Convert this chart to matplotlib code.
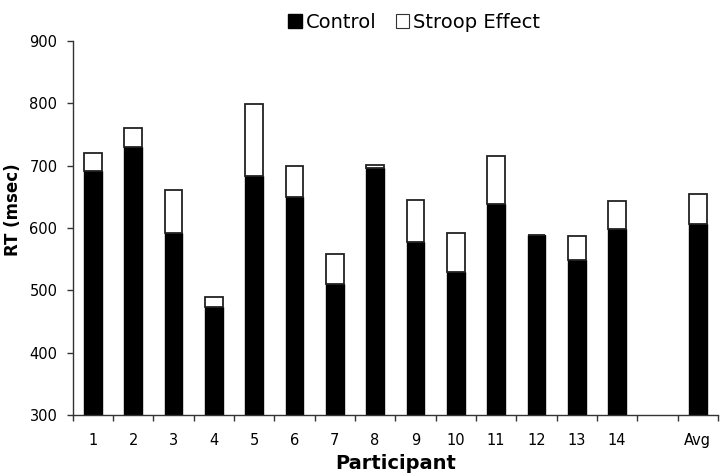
import numpy as np
import matplotlib
matplotlib.use("Agg")
from matplotlib import pyplot as plt
from matplotlib.patches import Patch

# participants 1-14, an empty slot, then the average
labels = ['1', '2', '3', '4', '5', '6', '7', '8', '9', '10', '11', '12', '13', '14', '', 'Avg']
control = [691, 730, 592, 474, 683, 649, 511, 697, 578, 529, 639, 588, 548, 599, np.nan, 606]
stroop = [29, 30, 69, 16, 116, 51, 48, 4, 67, 63, 77, 0, 39, 45, np.nan, 48]
yticks = [300, 400, 500, 600, 700, 800, 900]

plt.rcParams['font.family'] = ['DejaVu Sans']

fig = plt.figure(figsize=(7.2, 4.76), dpi=100)
ax = fig.add_axes([0.101, 0.128, 0.896, 0.786])

x = np.arange(len(labels))
ax.bar(x, control, width=0.44, color='black', edgecolor='black', linewidth=1.0)
ax.bar(x, stroop, width=0.44, bottom=control, color='white', edgecolor='#222222', linewidth=1.3)

ax.set_ylim(300, 900)
ax.set_xlim(-0.5, len(labels) - 0.5)
ax.set_yticks(yticks)

# labels at slot centres, tick marks at slot boundaries
ax.set_xticks(x)
ax.set_xticklabels(labels)
ax.set_xticks(np.arange(len(labels) + 1) - 0.5, minor=True)
ax.tick_params(axis='x', which='major', length=0, pad=13, labelsize=10.5)
ax.tick_params(axis='x', which='minor', length=4, width=1, color='#333333', direction='out')
ax.tick_params(axis='y', length=4, width=1, color='#333333', pad=7, labelsize=10.5)

for s in ['top', 'right']:
    ax.spines[s].set_visible(False)
for s in ['left', 'bottom']:
    ax.spines[s].set_color('#333333')
    ax.spines[s].set_linewidth(1.0)

ax.set_ylabel('RT (msec)', fontsize=12, fontweight='bold')
ax.yaxis.set_label_coords(-0.078, 0.55)
ax.set_xlabel('Participant', fontsize=14, fontweight='bold', labelpad=4)

handles = [Patch(facecolor='black', edgecolor='black'),
           Patch(facecolor='white', edgecolor='#333333', linewidth=0.8)]
fig.legend(handles, ['Control', 'Stroop Effect'], loc='upper center',
           bbox_to_anchor=(0.575, 1.01), ncol=2, frameon=False,
           handlelength=0.7, handleheight=0.7, handletextpad=0.2,
           columnspacing=1.0, prop={'family': ['DejaVu Sans'], 'size': 14})

fig.savefig('out.png', dpi=100)
